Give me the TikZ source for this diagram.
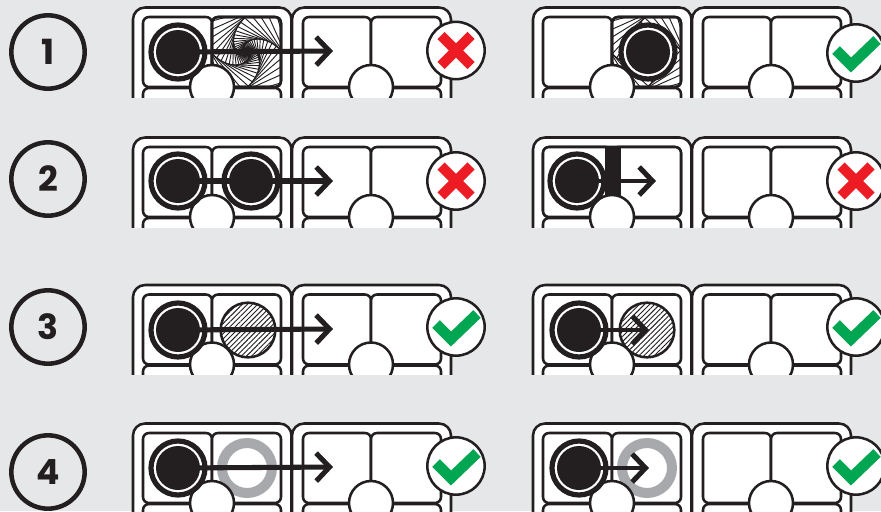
\documentclass[tikz,border=0pt]{standalone}
\usepackage{fontspec}
\usepackage{tikz}
\usetikzlibrary{arrows.meta,patterns.meta}
\newfontfamily\numfont{Poppins}
\definecolor{ink}{HTML}{231F20}
\definecolor{panel}{HTML}{E6E7E8}
\definecolor{ringgray}{HTML}{A7A9AC}
\definecolor{okgreen}{HTML}{00A651}
\definecolor{nored}{HTML}{ED1C24}
\newcommand{\boardpair}[3]{
	\begin{scope}
		\clip (#1-3,#2-3) rectangle (#1+325,#2+89.5);
		\draw[boardbox] (#1,#2) rectangle (#1+158.5,#2+120);
		\draw[boardbox] (#1+159,#2) rectangle (#1+318,#2+120);
		\foreach \cx/\cw in {10/69,79/69,170/68,238/70}{
			\draw[cellbox] (#1+\cx,#2+9.5) rectangle +(\cw,70);
			\draw[cellbox] (#1+\cx,#2+80.5) rectangle +(\cw,70);
		}
		#3
		\node[notch] (n1) at (#1+79,#2+79.5) {};
		\node[notch] (n2) at (#1+238,#2+79.5) {};
	\end{scope}
}
\newcommand{\disc}[3]{
	\node[discrim] at (#2,#3) {};
	\node[disccore] (#1) at (#2,#3) {};
}
\newcommand{\spiral}[2]{
	\begin{scope}
		\clip[rounded corners=4.5pt] (#1-34.5,#2-35) rectangle (#1+34.5,#2+35);
		\foreach \i in {0,...,30}{
			\pgfmathsetmacro{\s}{50*0.886^\i}
			\draw[spiralline,shift={(#1,#2)},rotate=\i*8] (-\s,-\s) rectangle (\s,\s);
		}
	\end{scope}
	\draw[cellbox,fill=none] (#1-34.5,#2-35) rectangle (#1+34.5,#2+35);
}
\newcommand{\badgeno}[2]{
	\node[badge] (b) at (#1,#2) {};
	\draw[nomark] (b.center) +(-15,-15) -- +(15,15);
	\draw[nomark] (b.center) +(-15,15) -- +(15,-15);
}
\newcommand{\badgeyes}[2]{
	\node[badge] (b) at (#1,#2) {};
	\draw[yesmark] (b.center) +(-20,-3) -- +(-5,12) -- +(21,-13);
}
\begin{document}
\begin{tikzpicture}[
	x=0.75pt,y=-0.75pt,
	boardbox/.style={draw=ink,line width=1.9pt,fill=white,rounded corners=9pt},
	cellbox/.style={draw=ink,line width=1.9pt,fill=white,rounded corners=4.5pt},
	spiralline/.style={draw=ink,line width=0.7pt},
	notch/.style={circle,draw=ink,line width=1.9pt,fill=white,minimum size=33pt,inner sep=0pt},
	discrim/.style={circle,draw=ink,line width=3.9pt,fill=white,minimum size=40.5pt,inner sep=0pt},
	disccore/.style={circle,fill=ink,minimum size=33pt,inner sep=0pt},
	move/.style={draw=ink,line width=3.8pt,-{Straight Barb[length=10pt,width=21pt]}},
	shortmove/.style={draw=ink,line width=2.8pt,-{Straight Barb[length=10pt,width=21pt,line width=3.8pt]}},
	hatchdisc/.style={circle,draw=ink,line width=1.9pt,minimum size=41pt,inner sep=0pt,
		pattern={Lines[angle=45,distance=2.7pt,line width=0.7pt]},pattern color=ink},
	graydisc/.style={circle,draw=ringgray,line width=7.5pt,minimum size=37.5pt,inner sep=0pt},
	wallbar/.style={fill=ink},
	badge/.style={circle,draw=ink,line width=1.9pt,fill=white,minimum size=43pt,inner sep=0pt},
	nomark/.style={draw=nored,line width=7.5pt},
	yesmark/.style={draw=okgreen,line width=8pt,miter limit=10},
	rownum/.style={circle,draw=ink,line width=3.4pt,minimum size=55pt,inner sep=0pt,text=ink,font=\numfont\bfseries\fontsize{26}{26}\selectfont}
	]
	\clip (0,0) rectangle (881,511);
	\fill[panel] (0,0) rectangle (881,511);
	\foreach \n/\y in {1/52,2/179,3/327,4/472}{
		\node[rownum] (num\n) at (48,\y) {\n};
	}
	% row 1
	\boardpair{133}{7.5}{\spiral{246.5}{52}}
	\disc{t1}{178}{52}
	\coordinate (e1) at (333,51);
	\draw[move] (t1.center) -- (e1);
	\badgeno{456}{50.5}
	\boardpair{533}{7.5}{\spiral{646.5}{52}}
	\disc{t2}{648}{52}
	\badgeyes{856}{53}
	% row 2
	\boardpair{133}{137.5}{}
	\disc{t3}{178}{181}
	\disc{t4}{251}{181}
	\coordinate (e3) at (333,181);
	\draw[move] (t3.center) -- (e3);
	\badgeno{456}{181}
	\boardpair{533}{137.5}{
		\draw[cellbox] (543,147) rectangle (681,217);
		\fill[wallbar] (605,147) rectangle (621,205);
	}
	\disc{t5}{577}{181}
	\coordinate (e5) at (656,181);
	\draw[shortmove] (t5.center) -- (e5);
	\badgeno{856}{181}
	% row 3
	\boardpair{133}{285}{\node[hatchdisc] (h1) at (248,330) {};}
	\disc{t6}{178}{330}
	\coordinate (e6) at (333,329);
	\draw[move] (t6.center) -- (e6);
	\badgeyes{456}{327}
	\boardpair{533}{285}{\node[hatchdisc] (h2) at (647,330) {};}
	\disc{t7}{579}{330}
	\coordinate (e7) at (649,330);
	\draw[shortmove] (t7.center) -- (e7);
	\badgeyes{856}{327}
	% row 4
	\boardpair{133}{423.5}{\node[graydisc] (g1) at (247,468) {};}
	\disc{t8}{178}{468}
	\coordinate (e8) at (333,467);
	\draw[move] (t8.center) -- (e8);
	\badgeyes{456}{466}
	\boardpair{533}{423.5}{\node[graydisc] (g2) at (647,468) {};}
	\disc{t9}{579}{468}
	\coordinate (e9) at (649,468);
	\draw[shortmove] (t9.center) -- (e9);
	\badgeyes{856}{466}
\end{tikzpicture}
\end{document}
